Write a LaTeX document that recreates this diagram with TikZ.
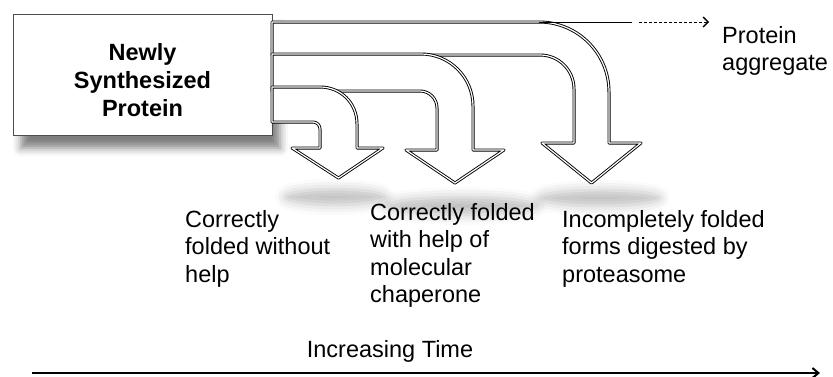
\documentclass[tikz,border=0pt]{standalone}
\usepackage{fontspec}
\setmainfont{Liberation Sans}
\usetikzlibrary{arrows.meta,shadows.blur}
\begin{document}
\begin{tikzpicture}[x=1pt,y=-1pt,
  lbl/.style={inner sep=0pt, align=left, anchor=north west, font=\fontsize{23.5}{27.5}\selectfont},
  bent/.style={fill=white, draw=black, line width=0.9pt, double=white, double distance=1.2pt, line join=round},
  softshadow/.style={blur shadow={shadow xshift=0pt, shadow yshift=0pt, shadow blur radius=10pt, shadow opacity=25}},
]
\useasboundingbox (0,0) rectangle (833,376);

% soft shadows under the arrow heads
\path[softshadow] (335,197) ellipse [x radius=50pt, y radius=8pt];
\path[softshadow] (462,206) ellipse [x radius=75pt, y radius=9pt];
\path[softshadow] (600,198) ellipse [x radius=60pt, y radius=8pt];

% box
\node (box) [draw=black!70, line width=0.6pt, fill=white, minimum width=259pt, minimum height=121pt, inner sep=0pt,
  blur shadow={shadow xshift=8pt, shadow yshift=-13pt, shadow blur radius=8pt, shadow opacity=50}] at (142.5,74.5) {};
\node (boxtxt) [font=\bfseries\fontsize{23.5}{28}\selectfont, align=center, inner sep=0pt] at (142.5,80) {Newly\\Synthesized\\Protein};

% outer bent arrow
\path[bent] (272,22) -- (539,22) .. controls (577.7,22) and (609,53.3) .. (609,92) -- (609,143) -- (641,143) -- (591.5,183) -- (542,143) -- (574,143) -- (574,89) .. controls (574,70.2) and (558.8,55) .. (540,55) -- (272,55) -- cycle;
% middle bent arrow
\path[bent] (272,54) -- (421,54) .. controls (449.7,54) and (473,77.3) .. (473,106) -- (473,150) -- (504,150) -- (455,183) -- (406,150) -- (437,150) -- (437,108) .. controls (437,98.6) and (429.4,91) .. (420,91) -- (272,91) -- cycle;
% inner bent arrow
\path[bent] (272,87) -- (320,87) .. controls (340.4,87) and (357,102.6) .. (357,124) -- (357,148) -- (383,148) -- (338.5,178) -- (292,148) -- (320,148) -- (320,129) .. controls (320,125.1) and (316.9,122) .. (313,122) -- (272,122) -- cycle;

% protein aggregate connector
\coordinate (ag0) at (539,22);
\coordinate (ag1) at (632,22);
\coordinate (ag2) at (639,22);
\node (agg) [lbl] at (722,26) {Protein\\aggregate};
\coordinate (ag3) at (709,22);
\draw[line width=1pt] (ag0) -- (ag1);
\draw[line width=0.9pt, dash pattern=on 3pt off 2pt, -{Straight Barb[length=5pt,width=10pt,line width=1.4pt]}] (ag2) -- (ag3);

% outcome labels
\node (t1) [lbl] at (185,210) {Correctly\\folded without\\help};
\node (t2) [lbl] at (370,203) {Correctly folded\\with help of\\molecular\\chaperone};
\node (t3) [lbl] at (562,210) {Incompletely folded\\forms digested by\\proteasome};

% time axis
\node (time) [inner sep=0pt, anchor=base, font=\fontsize{23.5}{27.5}\selectfont] at (390,357) {Increasing Time};
\coordinate (tA) at (32,373);
\coordinate (tB) at (820,373);
\draw[line width=2pt, -{Straight Barb[length=6pt,width=10pt]}] (tA) -- (tB);
\end{tikzpicture}
\end{document}
